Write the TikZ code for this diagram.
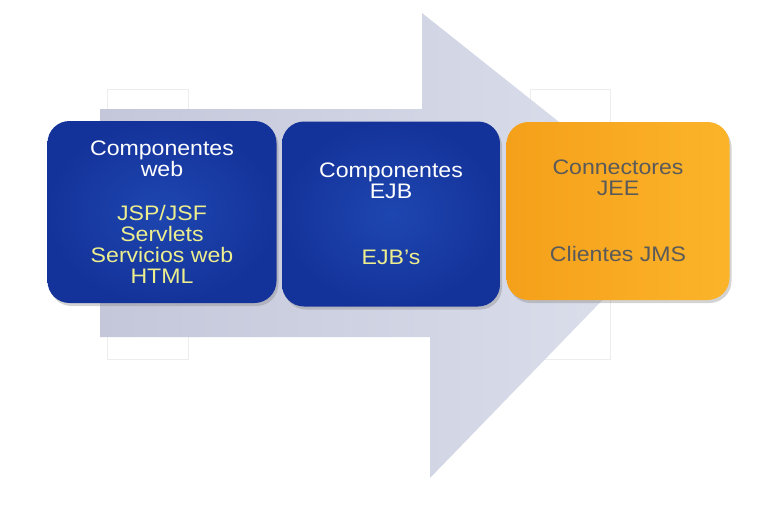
\documentclass[tikz,border=0pt]{standalone}
\usepackage{fontspec}
\setmainfont[FakeStretch=1.1]{Liberation Sans}
\usetikzlibrary{shadows}

\definecolor{arrowdark}{HTML}{C4C7DA}
\definecolor{arrowlight}{HTML}{DDE0EC}
\definecolor{boxblue}{HTML}{1E46B0}
\definecolor{boxblueedge}{HTML}{14339A}
\definecolor{boxorange}{HTML}{F5A01A}
\definecolor{boxorangelight}{HTML}{FBB42A}
\definecolor{listyellow}{HTML}{EDEE8E}
\definecolor{titlegray}{HTML}{5A5A5A}

\begin{document}
\begin{tikzpicture}[x=1pt, y=-1pt,
    stage/.style={rounded corners=22pt, align=center,
        font=\fontsize{21}{21}\selectfont,
        drop shadow={opacity=0.35, shadow xshift=2pt, shadow yshift=-3pt}},
    bluestage/.style={stage, inner color=boxblue, outer color=boxblueedge, text=white},
    orangestage/.style={stage, left color=boxorange, right color=boxorangelight, text=titlegray}]
    \useasboundingbox (0,0) rectangle (779,514);

    % faint frames behind the arrow
    \draw[black!7] (107,89) rectangle (188,359);
    \draw[black!7] (530,89) rectangle (610,359);

    % big arrow
    \path[left color=arrowdark, right color=arrowlight]
        (100,109) -- (422,109) -- (422,13) -- (681,219) -- (430,478)
        -- (430,337) -- (100,337) -- cycle;

    \node[bluestage, minimum width=229pt, minimum height=182pt] (web) at (162,212)
        {Componentes\\web\\[23pt]
         \color{listyellow}JSP/JSF\\\color{listyellow}Servlets\\
         \color{listyellow}Servicios web\\\color{listyellow}HTML};
    \node[bluestage, minimum width=218pt, minimum height=185pt] (ejb) at (391,214)
        {Componentes\\EJB\\[45pt]\color{listyellow}EJB's};
    \node[orangestage, minimum width=223pt, minimum height=178pt] (jee) at (618,211)
        {Connectores\\JEE\\[45pt]Clientes JMS};
\end{tikzpicture}
\end{document}
